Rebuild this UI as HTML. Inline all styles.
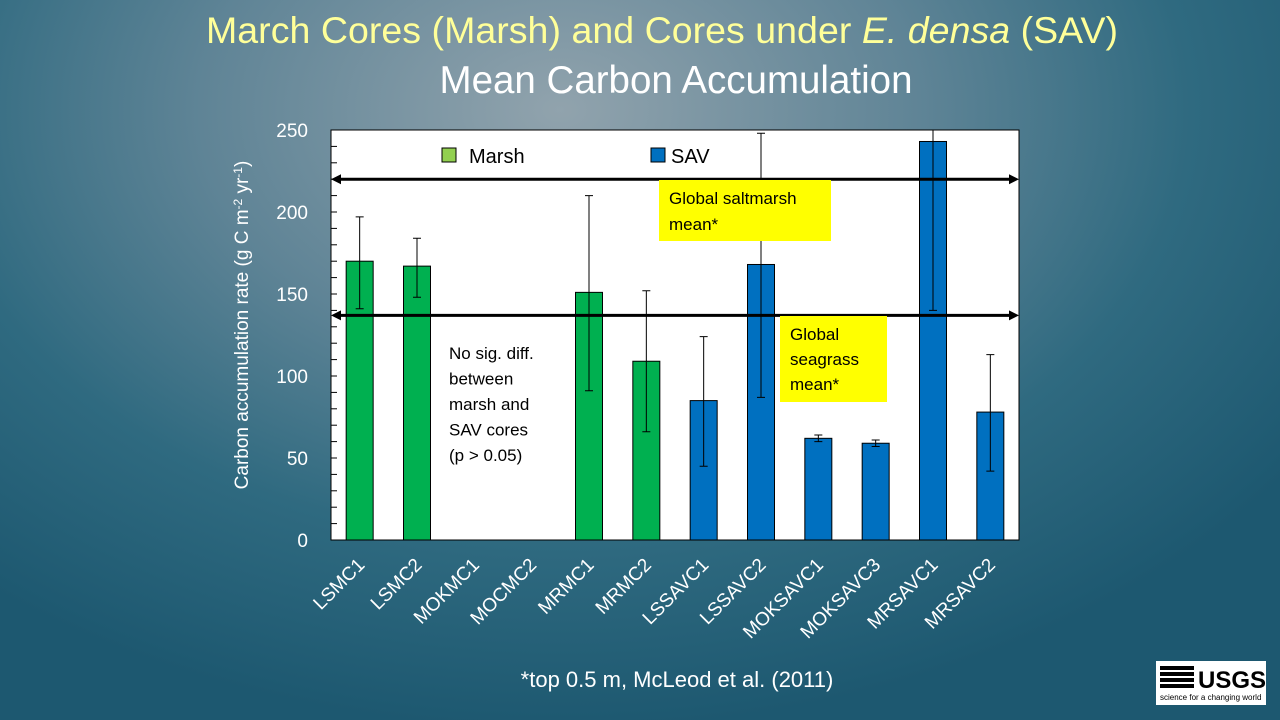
<!DOCTYPE html>
<html><head><meta charset="utf-8"><style>
body{margin:0;width:1280px;height:720px;overflow:hidden;font-family:"Liberation Sans",sans-serif;}
#bg{position:absolute;left:0;top:0;width:1280px;height:720px;background:radial-gradient(ellipse 900px 620px at 560px 110px,#91a3ad 0%,#5f8496 40%,#2f6a80 70%,#1d5870 100%);}
</style></head><body>
<div id="bg"></div>
<svg width="1280" height="720" style="position:absolute;left:0;top:0" font-family="Liberation Sans, sans-serif">
<text x="662" y="43" text-anchor="middle" font-size="37.5" fill="#ffff99" textLength="912">March Cores (Marsh) and Cores under <tspan font-style="italic">E. densa</tspan> (SAV)</text>
<text x="676" y="93" text-anchor="middle" font-size="38.5" fill="#fff">Mean Carbon Accumulation</text>
<g id="chart"></g>
<text x="677" y="687" text-anchor="middle" font-size="22" fill="#fff">*top 0.5 m, McLeod et al. (2011)</text>
<g>
<rect x="1156" y="661" width="110" height="44" fill="#fff"/>
<text x="1198" y="688" font-size="24" font-weight="bold" fill="#000">USGS</text>
<path d="M1160 668h34M1160 674h34M1160 680h34M1160 686h34" stroke="#000" stroke-width="4"/>
<text x="1160" y="700" font-size="8" fill="#000">science for a changing world</text>
</g>
</svg>
<script>
const categories=["LSMC1","LSMC2","MOKMC1","MOCMC2","MRMC1","MRMC2","LSSAVC1","LSSAVC2","MOKSAVC1","MOKSAVC3","MRSAVC1","MRSAVC2"];
const values=[170,167,null,null,151,109,85,168,62,59,243,78];
const errHigh=[197,184,null,null,210,152,124,248,64,61,252,113];
const errLow=[141,148,null,null,91,66,45,87,60,57,140,42];
const groups=["marsh","marsh","marsh","marsh","marsh","marsh","sav","sav","sav","sav","sav","sav"];
const yTicks=[0,50,100,150,200,250];
const refLines=[220,137];
const NS="http://www.w3.org/2000/svg";
const g=document.getElementById('chart');
const X0=331,X1=1019,Y0=540,Y1=130,YMAX=250;
const slot=(X1-X0)/categories.length;
const y=v=>Y0-(v/YMAX)*(Y0-Y1);
const xc=i=>X0+slot*(i+0.5);
function mk(t,a,txt){const e=document.createElementNS(NS,t);for(const k in a)e.setAttribute(k,a[k]);if(txt!==undefined)e.textContent=txt;g.appendChild(e);return e;}
let e=mk('rect',{x:X0,y:Y1,width:X1-X0,height:Y0-Y1,fill:'#fff',stroke:'#000','stroke-width':1});

for(let v=0;v<=YMAX;v+=10){e=mk('line',{x1:X0,x2:X0+6,y1:y(v),y2:y(v),stroke:'#000'});
}
yTicks.forEach(v=>{e=mk('text',{x:308,y:y(v)+7,'text-anchor':'end','font-size':19,fill:'#fff'},v);
});
e=mk('text',{x:0,y:0,transform:'translate(248,325) rotate(-90)','text-anchor':'middle','font-size':19,fill:'#fff'});
e.innerHTML='Carbon accumulation rate (g C m<tspan dy="-6" font-size="12">-2</tspan><tspan dy="6"> yr</tspan><tspan dy="-6" font-size="12">-1</tspan><tspan dy="6">)</tspan>';

categories.forEach((c,i)=>{
 if(values[i]!=null){
  e=mk('rect',{x:xc(i)-13.5,y:y(values[i]),width:27,height:Y0-y(values[i]),fill:groups[i]=='marsh'?'#00b050':'#0070c0',stroke:'#000','stroke-width':1});
  
  const hi=Math.min(errHigh[i],YMAX);
  e=mk('path',{d:`M${xc(i)} ${y(hi)}V${y(errLow[i])}M${xc(i)-4} ${y(hi)}h8M${xc(i)-4} ${y(errLow[i])}h8`,stroke:'#000','stroke-width':1,fill:'none'});
  
 }
 e=mk('text',{x:0,y:0,transform:`translate(${xc(i)+6},${566}) rotate(-45)`,'text-anchor':'end','font-size':19,fill:'#fff'},c);
 
});
refLines.forEach((v,k)=>{
 e=mk('path',{d:`M${X0+8} ${y(v)}H${X1-8}`,stroke:'#000','stroke-width':3});
 
 e=mk('path',{d:`M${X0} ${y(v)}l10 -5v10zM${X1} ${y(v)}l-10 -5v10z`,fill:'#000'});
 
});
e=mk('rect',{x:659,y:180,width:172,height:61,fill:'#ffff00'});
e=mk('text',{x:669,y:204,'font-size':17,fill:'#000'},'Global saltmarsh');
e=mk('text',{x:669,y:230,'font-size':17,fill:'#000'},'mean*');
e=mk('rect',{x:780,y:316,width:107,height:86,fill:'#ffff00'});
['Global','seagrass','mean*'].forEach((t,k)=>{e=mk('text',{x:790,y:340+k*25,'font-size':17,fill:'#000'},t);});
['No sig. diff.','between','marsh and','SAV cores','(p > 0.05)'].forEach((t,k)=>{e=mk('text',{x:449,y:359+k*25.5,'font-size':17,fill:'#000'},t);});
e=mk('rect',{x:442,y:148,width:14,height:14,fill:'#92d050',stroke:'#000'});
e=mk('text',{x:469,y:163,'font-size':20,fill:'#000'},'Marsh');
e=mk('rect',{x:651,y:148,width:14,height:14,fill:'#0070c0',stroke:'#000'});
e=mk('text',{x:671,y:163,'font-size':20,fill:'#000'},'SAV');
</script>
</body></html>
